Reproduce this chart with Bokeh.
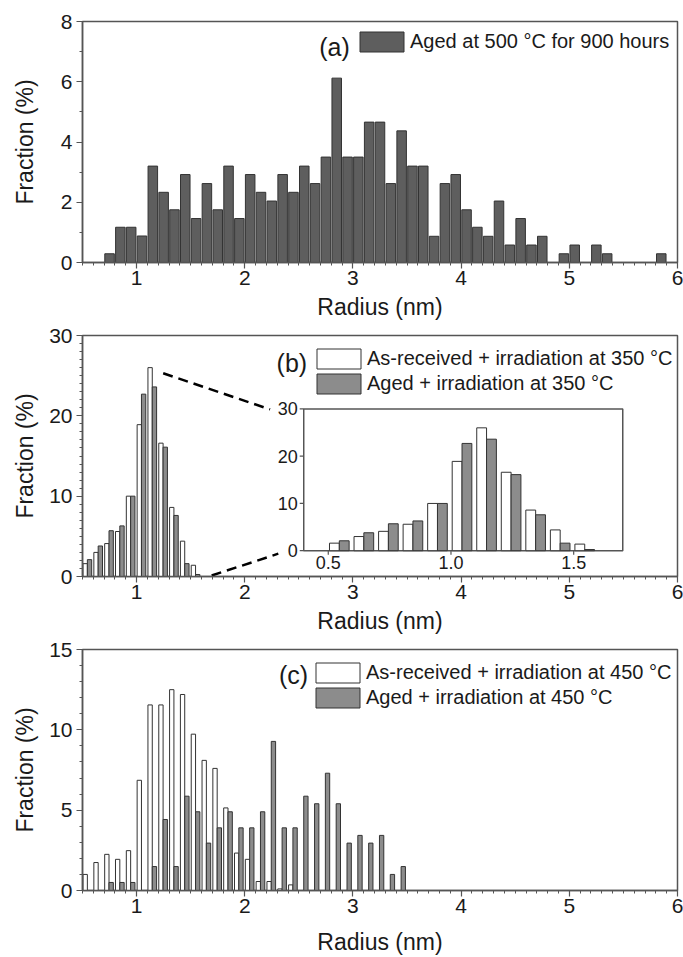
from bokeh.plotting import figure
from bokeh.layouts import column
from bokeh.models import Range1d, SingleIntervalTicker, Legend, LegendItem, Label
from bokeh.embed import file_html
from bokeh.resources import INLINE
from bokeh.core.properties import value
import math

# ---------------- data ----------------
# (a) aged at 500 C for 900 h : bin centres (nm) and fraction (%)
A_RADIUS = [0.75, 0.85, 0.95, 1.05, 1.15, 1.25, 1.35, 1.45, 1.55, 1.65,
            1.75, 1.85, 1.95, 2.05, 2.15, 2.25, 2.35, 2.45, 2.55, 2.65,
            2.75, 2.85, 2.95, 3.05, 3.15, 3.25, 3.35, 3.45, 3.55, 3.65,
            3.75, 3.85, 3.95, 4.05, 4.15, 4.25, 4.35, 4.45, 4.55, 4.65,
            4.75, 4.85, 4.95, 5.05, 5.15, 5.25, 5.35, 5.45, 5.55, 5.65,
            5.75, 5.85]
A_FRACTION = [0.29, 1.17, 1.17, 0.88, 3.2, 2.33, 1.75, 2.92, 1.46, 2.62,
              1.75, 3.2, 1.46, 2.92, 2.33, 2.04, 2.92, 2.33, 3.2, 2.62,
              3.5, 6.12, 3.5, 3.5, 4.66, 4.66, 2.62, 4.37, 3.2, 3.2,
              0.87, 2.62, 2.92, 1.75, 1.17, 0.87, 2.04, 0.58, 1.46, 0.58,
              0.87, 0, 0.29, 0.58, 0, 0.58, 0.29, 0, 0, 0,
              0, 0.29]

# (b) irradiation at 350 C
B_RADIUS = [0.55, 0.65, 0.75, 0.85, 0.95, 1.05, 1.15, 1.25, 1.35, 1.45, 1.55]
B_AS_RECEIVED = [1.6, 3.0, 4.1, 5.6, 10.0, 18.9, 26.0, 16.6, 8.6, 4.4, 1.4]
B_AGED = [2.1, 3.8, 5.7, 6.3, 10.0, 22.7, 23.6, 16.1, 7.6, 1.6, 0.25]

# (c) irradiation at 450 C
C_RADIUS = [0.55, 0.65, 0.75, 0.85, 0.95, 1.05, 1.15, 1.25, 1.35, 1.45,
            1.55, 1.65, 1.75, 1.85, 1.95, 2.05, 2.15, 2.25, 2.35, 2.45,
            2.55, 2.65, 2.75, 2.85, 2.95, 3.05, 3.15, 3.25, 3.35, 3.45]
C_AS_RECEIVED = [1.0, 1.74, 2.25, 1.94, 2.48, 6.86, 11.55, 11.55, 12.5, 12.2,
                 9.73, 8.1, 7.6, 5.14, 2.33, 1.94, 0.56, 0.56, 0.1, 0.35,
                 0, 0, 0, 0, 0, 0, 0, 0, 0, 0]
C_AGED = [0, 0, 0.5, 0.5, 0.5, 0, 1.49, 4.42, 1.49, 5.87,
          4.9, 2.95, 3.9, 4.9, 3.9, 3.9, 4.9, 9.28, 3.9, 3.9,
          5.87, 5.4, 7.3, 5.4, 2.95, 3.43, 2.95, 3.43, 1.0, 1.49]

X_TICK_INTERVAL = 1
INSET_X_TICKS = [0.5, 1.0, 1.5]
INSET_Y_TICKS = [0, 10, 20, 30]

# ---------------- styles ----------------
FONT = "Liberation Sans"
TXT = "#1a1a1a"
AXC = "#555555"
DARK = "#5e5e5e"
GRAY = "#8c8c8c"
EDGE = "#333333"
W = 683


def nz(xs, ys, off):
    out = [(x + off, y) for x, y in zip(xs, ys) if y > 0]
    return [o[0] for o in out], [o[1] for o in out]


def make_fig(height, top, bottom, ymax, yint, yminor, y_als, x_als):
    p = figure(width=W, height=height, x_range=Range1d(0.5, 6), y_range=Range1d(0, ymax),
               output_backend="svg", toolbar_location=None,
               min_border_left=82, min_border_right=6, min_border_top=top, min_border_bottom=bottom)
    p.grid.visible = False
    p.outline_line_color = AXC
    p.outline_line_width = 1.5
    p.outline_line_alpha = 1
    p.xaxis.ticker = SingleIntervalTicker(interval=X_TICK_INTERVAL, num_minor_ticks=10)
    p.yaxis.ticker = SingleIntervalTicker(interval=yint, num_minor_ticks=yminor)
    p.xaxis.axis_label = "Radius (nm)"
    p.yaxis.axis_label = "Fraction (%)"
    for ax in p.axis:
        ax.axis_line_color = AXC
        ax.axis_line_width = 1.5
        ax.major_tick_line_color = AXC
        ax.major_tick_line_width = 1.2
        ax.minor_tick_line_color = AXC
        ax.major_tick_out = 6
        ax.major_tick_in = 0
        ax.minor_tick_out = 3
        ax.minor_tick_in = 0
        ax.major_label_text_font = FONT
        ax.major_label_text_font_size = "21px"
        ax.major_label_text_color = TXT
        ax.axis_label_text_font = FONT
        ax.axis_label_text_font_size = "23px"
        ax.axis_label_text_font_style = "normal"
        ax.axis_label_text_color = TXT
    p.xaxis.major_label_standoff = 2
    p.xaxis.axis_label_standoff = x_als
    p.yaxis.major_label_standoff = 4
    p.yaxis.axis_label_standoff = y_als
    return p


def add_legend(p, items, loc):
    lg = Legend(items=items, location=loc, orientation="vertical",
                glyph_width=55, glyph_height=25, label_height=25, label_standoff=1,
                spacing=0, padding=0, margin=0,
                border_line_color=None, background_fill_alpha=0,
                label_text_font=FONT, label_text_font_size="20px", label_text_color=TXT)
    p.add_layout(lg)


def tag(p, x, y, t):
    p.add_layout(Label(x=x, y=y, text=t, text_font=FONT, text_font_size="25px",
                       text_color=TXT, text_align="center", text_baseline="middle"))


# ---------------- (a) ----------------
pa = make_fig(322, 21, 59, 8, 2, 2, 20, 6)
ax_, ay_ = nz(A_RADIUS, A_FRACTION, 0)
ra = pa.vbar(x=ax_, top=ay_, bottom=0, width=0.088, fill_color=DARK, line_color=EDGE, line_width=1)
add_legend(pa, [LegendItem(label="Aged at 500 °C for 900 hours", renderers=[ra])], (272, 208))
tag(pa, 2.83, 7.17, "(a)")

# ---------------- (b) ----------------
pb = make_fig(314, 13, 59, 30, 10, 10, 8, 6)
bx1, by1 = nz(B_RADIUS, B_AS_RECEIVED, -0.025)
bx2, by2 = nz(B_RADIUS, B_AGED, 0.015)
rb1 = pb.vbar(x=bx1, top=by1, bottom=0, width=0.04, fill_color="white", line_color=EDGE, line_width=1)
rb2 = pb.vbar(x=bx2, top=by2, bottom=0, width=0.04, fill_color=GRAY, line_color=EDGE, line_width=1)

# inset: placed through extra ranges so inset data maps into a sub-box of the frame
INSET_BOX = (2.545, 5.494, 3.21, 20.86)   # in main data coords
INSET_LIM = (0.4, 1.7, 0.0, 30.0)
fx0 = (INSET_BOX[0] - 0.5) / 5.5
fx1 = (INSET_BOX[1] - 0.5) / 5.5
fy0 = INSET_BOX[2] / 30.0
fy1 = INSET_BOX[3] / 30.0
sx = (INSET_LIM[1] - INSET_LIM[0]) / (fx1 - fx0)
sy = (INSET_LIM[3] - INSET_LIM[2]) / (fy1 - fy0)
pb.extra_x_ranges = {"ix": Range1d(INSET_LIM[0] - fx0 * sx, INSET_LIM[0] - fx0 * sx + sx)}
pb.extra_y_ranges = {"iy": Range1d(INSET_LIM[2] - fy0 * sy, INSET_LIM[2] - fy0 * sy + sy)}
kw = dict(x_range_name="ix", y_range_name="iy")
pb.quad(left=[INSET_LIM[0]], right=[INSET_LIM[1]], bottom=[INSET_LIM[2]], top=[INSET_LIM[3]],
        fill_color="white", line_color=AXC, line_width=1.5, **kw)
pb.vbar(x=bx1, top=by1, bottom=0, width=0.04, fill_color="white", line_color=EDGE, line_width=1, **kw)
pb.vbar(x=bx2, top=by2, bottom=0, width=0.04, fill_color=GRAY, line_color=EDGE, line_width=1, **kw)
pb.ray(x=[INSET_LIM[0]] * len(INSET_Y_TICKS), y=INSET_Y_TICKS, length=4, length_units="screen",
       angle=math.pi, line_color=AXC, line_width=1.2, **kw)
pb.ray(x=INSET_X_TICKS, y=[0] * len(INSET_X_TICKS), length=4, length_units="screen",
       angle=-math.pi / 2, line_color=AXC, line_width=1.2, **kw)
pb.text(x=[INSET_LIM[0]] * len(INSET_Y_TICKS), y=INSET_Y_TICKS, text=[str(v) for v in INSET_Y_TICKS],
        x_offset=-6, text_align="right", text_baseline="middle", text_font=value(FONT),
        text_font_size=value("18px"), text_color=TXT, **kw)
pb.text(x=INSET_X_TICKS, y=[0] * len(INSET_X_TICKS), text=["%.1f" % v for v in INSET_X_TICKS],
        y_offset=5, text_align="center", text_baseline="top", text_font=value(FONT),
        text_font_size=value("18px"), text_color=TXT, **kw)
# zoom connector lines
CONNECT_UP = ([1.246, 2.234], [25.3, 20.8])
CONNECT_LOW = ([1.694, 2.31], [0.12, 2.84])
for xs, ys in (CONNECT_UP, CONNECT_LOW):
    pb.line(xs, ys, line_color="black", line_width=2.5, line_dash="10 6")
add_legend(pb, [LegendItem(label="As-received + irradiation at 350 °C", renderers=[rb1]),
                LegendItem(label="Aged + irradiation at 350 °C", renderers=[rb2])], (229, 180))
tag(pb, 2.435, 26.6, "(b)")

# ---------------- (c) ----------------
pc = make_fig(321, 13, 66, 15, 5, 5, 8, 13)
cx1, cy1 = nz(C_RADIUS, C_AS_RECEIVED, -0.025)
cx2, cy2 = nz(C_RADIUS, C_AGED, 0.015)
rc1 = pc.vbar(x=cx1, top=cy1, bottom=0, width=0.04, fill_color="white", line_color=EDGE, line_width=1)
rc2 = pc.vbar(x=cx2, top=cy2, bottom=0, width=0.04, fill_color=GRAY, line_color=EDGE, line_width=1)
add_legend(pc, [LegendItem(label="As-received + irradiation at 450 °C", renderers=[rc1]),
                LegendItem(label="Aged + irradiation at 450 °C", renderers=[rc2])], (228, 180))
tag(pc, 2.45, 13.4, "(c)")

layout = column(pa, pb, pc, spacing=0)
open("out.html", "w").write(file_html(layout, INLINE))
